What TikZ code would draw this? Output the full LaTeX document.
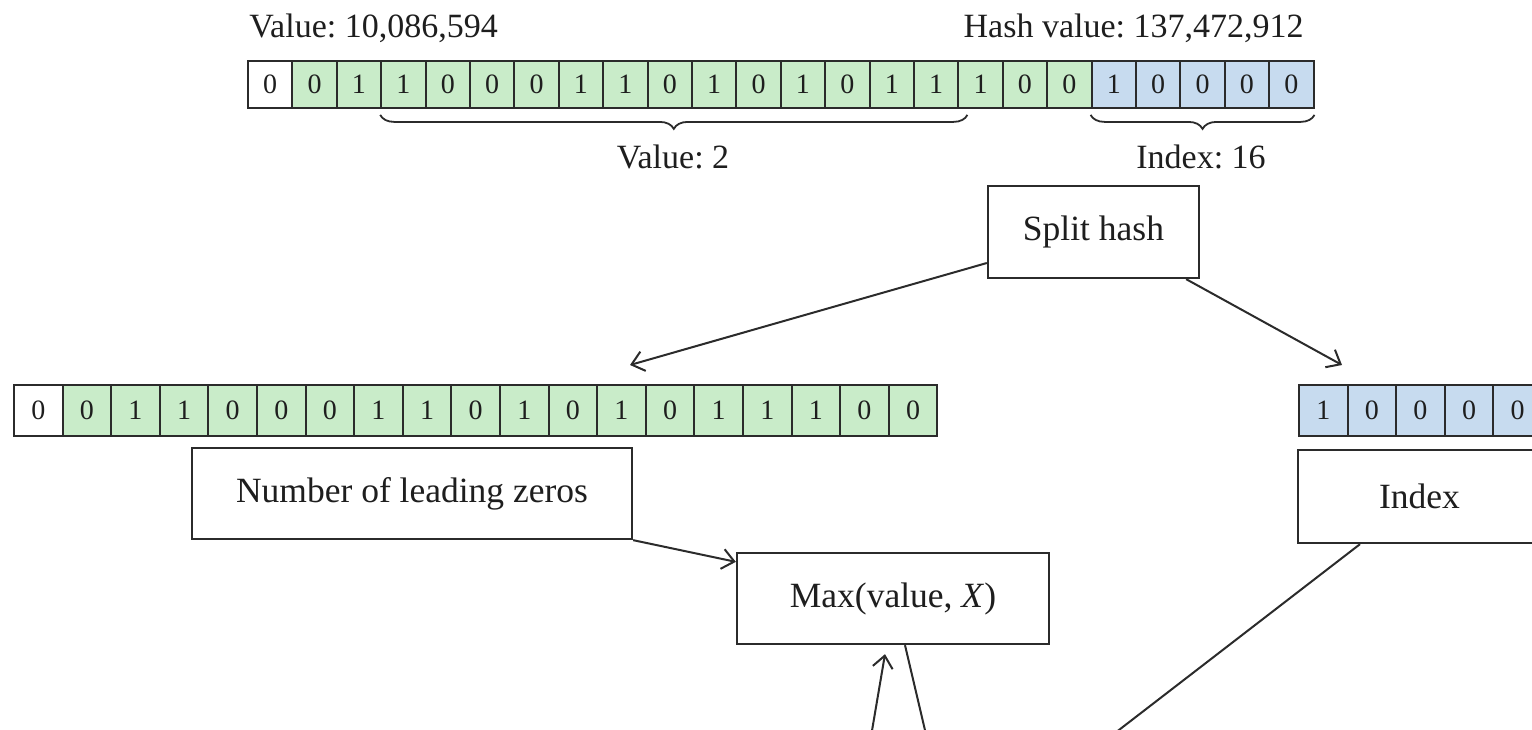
\documentclass[tikz,border=0pt]{standalone}
\usepackage{fontspec}
\setmainfont{Liberation Serif}
\usetikzlibrary{arrows.meta,decorations.pathreplacing,calc}
\frenchspacing
\definecolor{bitgreen}{HTML}{C9ECC9}
\definecolor{bitblue}{HTML}{C7DBEF}
\definecolor{edge}{HTML}{2B2B2B}
\definecolor{ink}{HTML}{1E1E1E}

\begin{document}
\begin{tikzpicture}[x=0.5pt,y=-0.5pt,
  bit/.style={draw=edge, line width=0.95pt, anchor=north west, inner sep=0pt,
              text=ink, font=\fontsize{14}{16}\selectfont},
  topbit/.style={bit, minimum width=22.2pt, minimum height=23.5pt},
  lowbit/.style={bit, minimum width=24.3pt, minimum height=25.5pt},
  box/.style={draw=edge, line width=1.15pt, fill=white, inner sep=0pt,
              text=ink, font=\fontsize{17.75}{20}\selectfont},
  lbl/.style={text=ink, inner sep=0pt, font=\fontsize{17}{20}\selectfont},
  conn/.style={draw=edge, line width=1pt},
  arr/.style={conn, -{Straight Barb[length=6pt,width=10pt]}},
  curly/.style={draw=edge, line width=0.9pt, decorate,
                decoration={brace, mirror, amplitude=7pt}}
]
\useasboundingbox (0,0) rectangle (1532,729);
\clip (0,0) rectangle (1532,729);

% full hash: sign bit, value bits, index bits
\node[topbit, fill=white] (t0) at (247,60) {0};
\foreach \b [count=\i] in {0,1,1,0,0,0,1,1,0,1,0,1,0,1,1,1,0,0}
  \node[topbit, fill=bitgreen] (t\i) at ({247+\i*44.4},60) {\b};
\foreach \b [count=\k from 19] in {1,0,0,0,0}
  \node[topbit, fill=bitblue] (t\k) at ({247+\k*44.4},60) {\b};

\node[lbl, anchor=base west] (val) at (249,37) {Value: 10,086,594};
\node[lbl, anchor=base east] (hash) at (1304,37) {Hash value: 137,472,912};

% braces under the hash
\draw[curly] ([yshift=-3pt]t3.south west) -- ([xshift=5pt,yshift=-3pt]t16.south west);
\draw[curly] ([yshift=-3pt]t19.south west) -- ([yshift=-3pt]t23.south east);
\node[lbl] (vtwo) at (673,157) {Value: 2};
\node[lbl] (idx) at (1201,157) {Index: 16};

% split parts
\node[lowbit, fill=white] (l0) at (13,384) {0};
\foreach \b [count=\i] in {0,1,1,0,0,0,1,1,0,1,0,1,0,1,1,1,0,0}
  \node[lowbit, fill=bitgreen] (l\i) at ({13+\i*48.6},384) {\b};
\foreach \b [count=\k from 0] in {1,0,0,0,0}
  \node[lowbit, fill=bitblue] (r\k) at ({1298+\k*48.6},384) {\b};

% processing boxes
\node[box, minimum width=105.5pt, minimum height=46pt] (split) at (1093.5,232) {Split hash};
\node[box, minimum width=220pt, minimum height=45.5pt] (nlz) at (412,493.5) {Number of leading zeros};
\node[box, minimum width=156pt, minimum height=45.5pt] (max) at (893,598.5) {Max(value, \textit{X})};
\node[box, minimum width=121.5pt, minimum height=46.5pt] (index) at (1419.5,496.5) {Index};

% loose connector ends
\coordinate (ltip) at (630,365);
\coordinate (rtip) at (1342,365);
\coordinate (upfoot) at (867,760);
\coordinate (downfoot) at (932,760);
\coordinate (idxfoot) at (1080,760);

% connectors
\draw[arr] ([yshift=-15.5pt]split.west) -- (ltip);
\draw[arr] ([xshift=-7pt]split.south east) -- (rtip);
\draw[arr] (nlz.south east) -- ([yshift=-5pt]max.north west);
\draw[arr] (upfoot) -- ([xshift=-4pt,yshift=-4.5pt]max.south);
\draw[conn] ([xshift=6pt]max.south) -- (downfoot);
\draw[conn] ([xshift=-29.75pt]index.south) -- (idxfoot);
\end{tikzpicture}
\end{document}
